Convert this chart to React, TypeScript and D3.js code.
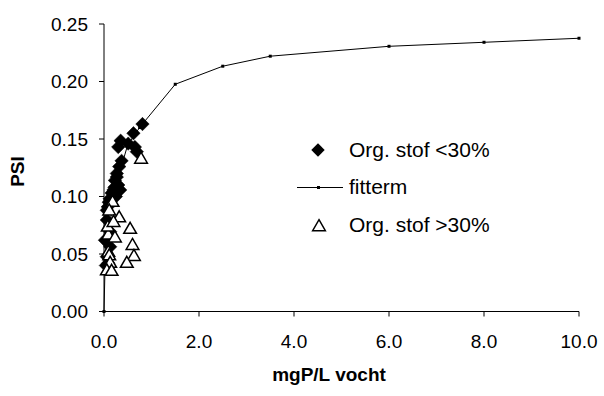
import React from "react";
import * as d3 from "d3";

const xTicks = [0, 2, 4, 6, 8, 10];
const yTicks = [0, 0.05, 0.1, 0.15, 0.2, 0.25];

const lowX = [0.81, 0.62, 0.35, 0.51, 0.3, 0.65, 0.69, 0.37, 0.32, 0.27, 0.23, 0.3, 0.2, 0.34, 0.16, 0.25, 0.1, 0.06, 0.06, 0.13, 0.02, 0.13, 0.06, 0.09, 0.04, 0.27, 0.22, 0.12, 0.08];
const lowY = [0.163, 0.155, 0.1485, 0.146, 0.143, 0.143, 0.139, 0.131, 0.126, 0.12, 0.114, 0.11, 0.1057, 0.1057, 0.103, 0.1, 0.095, 0.088, 0.0796, 0.0694, 0.062, 0.0563, 0.0477, 0.042, 0.04, 0.117, 0.108, 0.098, 0.091];

const highX = [0.78, 0.18, 0.11, 0.32, 0.55, 0.09, 0.23, 0.6, 0.09, 0.11, 0.63, 0.48, 0.13, 0.06, 0.16, 0.08, 0.2];
const highY = [0.133, 0.0955, 0.088, 0.082, 0.072, 0.067, 0.0645, 0.058, 0.052, 0.049, 0.0485, 0.0425, 0.0425, 0.036, 0.0355, 0.074, 0.078];

const fitX = [0, 0.02, 0.1, 0.25, 0.5, 0.75, 1.5, 2.5, 3.5, 6, 8, 10];
const fitY = [0, 0.035, 0.07, 0.11, 0.145, 0.16, 0.1976, 0.2133, 0.222, 0.2306, 0.2341, 0.2376];

const FONT = "'Liberation Sans', Arial, sans-serif";

export default function App() {
  const x = d3.scaleLinear().domain([0, 10]).range([104, 579]);
  const y = d3.scaleLinear().domain([0, 0.25]).range([311.5, 24]);
  const diamond = d3.symbol().type(d3.symbolSquare).size(90)()!;
  const tri = d3.symbol().type(d3.symbolTriangle).size(70)()!;
  const line = d3
    .line<number>()
    .x((_, i) => x(fitX[i]))
    .y((d) => y(d));
  const fmt = d3.format(".2f");
  const fmtX = d3.format(".1f");

  return (
    <svg
      width={604}
      height={396}
      style={{ position: "absolute", left: 0, top: 0, background: "#fff" }}
      fontFamily={FONT}
    >
      {/* axes */}
      <line x1={x(0)} x2={x(0)} y1={y(0)} y2={y(0.25)} stroke="#000" strokeWidth={1} />
      <line x1={x(0)} x2={x(10)} y1={y(0)} y2={y(0)} stroke="#000" strokeWidth={1} />
      {yTicks.map((t) => (
        <g key={"y" + t}>
          <line x1={x(0) - 5} x2={x(0)} y1={y(t)} y2={y(t)} stroke="#000" />
          <text x={88} y={y(t)} dy="0.35em" textAnchor="end" fontSize={19} fill="#000">
            {fmt(t)}
          </text>
        </g>
      ))}
      {xTicks.map((t) => (
        <g key={"x" + t}>
          <line x1={x(t)} x2={x(t)} y1={y(0)} y2={y(0) + 5} stroke="#000" />
          <text x={x(t)} y={348} textAnchor="middle" fontSize={19} fill="#000">
            {fmtX(t)}
          </text>
        </g>
      ))}
      <text
        transform="translate(24,171.5) rotate(-90)"
        textAnchor="middle"
        fontSize={19}
        fontWeight="bold"
      >
        PSI
      </text>
      <text x={329} y={381} textAnchor="middle" fontSize={19} fontWeight="bold">
        mgP/L vocht
      </text>

      {/* series 1 diamonds */}
      {lowX.map((v, i) => (
        <path
          key={"d" + i}
          d={diamond}
          transform={`translate(${x(v)},${y(lowY[i])}) rotate(45)`}
          fill="#000"
          stroke="#000"
          strokeWidth={0.5}
        />
      ))}

      {/* fit line */}
      <path d={line(fitY)!} fill="none" stroke="#000" strokeWidth={1} />
      {fitY.map((v, i) => (
        <rect key={"f" + i} x={x(fitX[i]) - 1.5} y={y(v) - 1.5} width={3} height={3} fill="#000" />
      ))}

      {/* series 3 triangles */}
      {highX.map((v, i) => (
        <path
          key={"t" + i}
          d={tri}
          transform={`translate(${x(v)},${y(highY[i]) + 1})`}
          fill="#fff"
          stroke="#000"
          strokeWidth={1.5}
        />
      ))}

      {/* legend */}
      <path d={diamond} transform="translate(318,150) rotate(45)" fill="#000" />
      <text x={349} y={157} fontSize={21}>
        Org. stof &lt;30%
      </text>
      <line x1={297} x2={343} y1={187.5} y2={187.5} stroke="#000" />
      <rect x={317} y={186} width={3} height={3} fill="#000" />
      <text x={349} y={194} fontSize={21}>
        fitterm
      </text>
      <path d={tri} transform="translate(319,227)" fill="#fff" stroke="#000" strokeWidth={1.5} />
      <text x={349} y={232} fontSize={21}>
        Org. stof &gt;30%
      </text>
    </svg>
  );
}
